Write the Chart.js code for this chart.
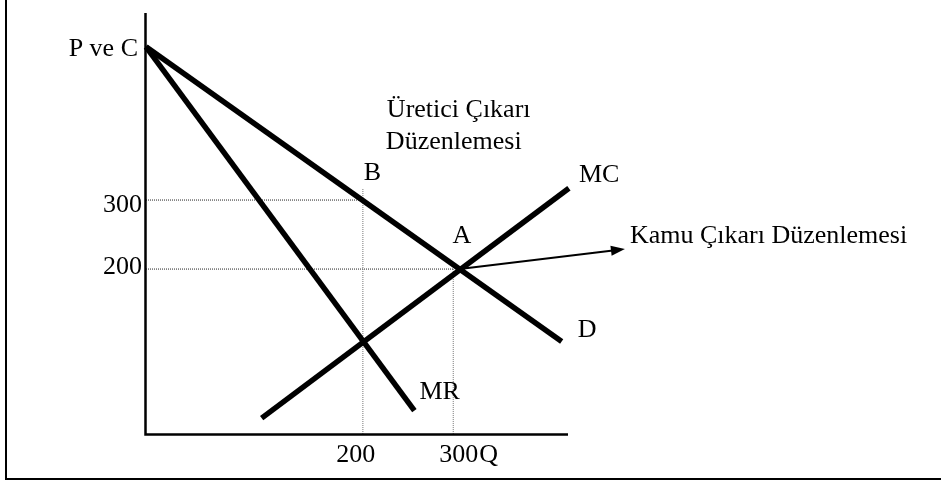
<!DOCTYPE html>
<html>
<head>
<meta charset="utf-8">
<script src="https://cdn.jsdelivr.net/npm/chart.js@4.4.1/dist/chart.umd.min.js"></script>
<style>
  html, body { margin: 0; padding: 0; background: #fff; }
  #wrap { width: 941px; height: 481px; }
</style>
</head>
<body>
<div id="wrap"><canvas id="chart" width="941" height="481"></canvas></div>
<script>
// schematic units
const qRange = [-40, 427];
const pRange = [-39, 571];
const qTicks = [200, 300];
const pTicks = [300, 200];

// curves
const demandQ = [-40, 420];
const demandP = [522, 95];
const mrQ = [-40, 257];
const mrP = [522, -5];
const mcQ = [88, 428];
const mcP = [-16, 317];

// dotted guides through B and A
const guideBhQ = [-40, 200];
const guideBhP = [300, 300];
const guideBvQ = [200, 200];
const guideBvP = [316, -39];
const guideAhQ = [-40, 300];
const guideAhP = [200, 200];
const guideAvQ = [300, 300];
const guideAvP = [200, -39];

// arrow from A to the note
const arrowQ = [307, 490];
const arrowP = [200, 229];

const axisTitles = ['P ve C', 'Q'];
const curveNames = ['D', 'MR', 'MC'];
const pointNames = ['A', 'B'];
const noteTop = ['Üretici Çıkarı', 'Düzenlemesi'];
const noteRight = 'Kamu Çıkarı Düzenlemesi';

function pts(qs, ps) {
    return qs.map((q, i) => ({ x: q, y: ps[i] }));
}

function thick(data) {
    return { data: data, borderColor: '#000', borderWidth: 5.5, pointRadius: 0, showLine: true, clip: false, order: 1 };
}

function dotted(data, color) {
    return { data: data, borderColor: color, borderWidth: 1, borderDash: [1, 1], pointRadius: 0, showLine: true, clip: false, order: 2 };
}

const FONT = '26px "Liberation Serif", "Times New Roman", serif';

const decor = {
    id: 'decor',
    beforeDraw(chart) {
        const ctx = chart.ctx;
        ctx.save();
        ctx.fillStyle = '#fff';
        ctx.fillRect(0, 0, chart.width, chart.height);
        // frame
        ctx.strokeStyle = '#000';
        ctx.lineWidth = 2;
        ctx.beginPath();
        ctx.moveTo(6, 0);
        ctx.lineTo(6, 479);
        ctx.lineTo(chart.width, 479);
        ctx.stroke();
        ctx.restore();
    },
    afterDatasetsDraw(chart) {
        const ctx = chart.ctx;
        const xs = chart.scales.x, ys = chart.scales.y;
        const X = v => xs.getPixelForValue(v);
        const Y = v => ys.getPixelForValue(v);
        const a = chart.chartArea;

        ctx.save();
        // axes
        ctx.strokeStyle = '#000';
        ctx.lineWidth = 2.5;
        ctx.beginPath();
        ctx.moveTo(a.left - 0.5, a.top);
        ctx.lineTo(a.left - 0.5, a.bottom + 0.5);
        ctx.lineTo(a.right, a.bottom + 0.5);
        ctx.stroke();

        // arrow
        const x0 = X(arrowQ[0]), y0 = Y(arrowP[0]);
        const x1 = X(arrowQ[1]), y1 = Y(arrowP[1]);
        const ang = Math.atan2(y1 - y0, x1 - x0);
        ctx.lineWidth = 2;
        ctx.beginPath();
        ctx.moveTo(x0, y0);
        ctx.lineTo(x1 - 12 * Math.cos(ang), y1 - 12 * Math.sin(ang));
        ctx.stroke();
        ctx.fillStyle = '#000';
        ctx.beginPath();
        ctx.moveTo(x1, y1);
        ctx.lineTo(x1 - 14 * Math.cos(ang) + 5 * Math.sin(ang), y1 - 14 * Math.sin(ang) - 5 * Math.cos(ang));
        ctx.lineTo(x1 - 14 * Math.cos(ang) - 5 * Math.sin(ang), y1 - 14 * Math.sin(ang) + 5 * Math.cos(ang));
        ctx.closePath();
        ctx.fill();

        // texts
        ctx.font = FONT;
        ctx.fillStyle = '#000';
        ctx.textBaseline = 'alphabetic';

        ctx.textAlign = 'right';
        ctx.fillText(axisTitles[0], a.left - 8, Y(demandP[0]) + 9);
        const pDy = [12, 5];
        pTicks.forEach((v, i) => ctx.fillText(String(v), a.left - 4, Y(v) + pDy[i]));

        ctx.textAlign = 'center';
        ctx.fillText(String(qTicks[0]), X(qTicks[0]) - 7, a.bottom + 28);
        ctx.textAlign = 'left';
        ctx.fillText(String(qTicks[1]), X(qTicks[1]) - 14, a.bottom + 28);
        ctx.fillText(axisTitles[1], X(qTicks[1]) + 26, a.bottom + 28);

        ctx.fillText(curveNames[0], X(demandQ[1]) + 16, Y(demandP[1]) - 5);
        ctx.fillText(curveNames[1], X(mrQ[1]) + 5, Y(mrP[1]) - 12);
        ctx.fillText(curveNames[2], X(mcQ[1]) + 10, Y(mcP[1]) - 6);

        ctx.fillText(pointNames[0], X(arrowQ[0]) - 7, Y(arrowP[0]) - 26);
        ctx.fillText(pointNames[1], X(qTicks[0]) + 1, Y(300) - 20);

        ctx.fillText(noteTop[0], X(qTicks[0]) + 24, Y(300) - 83);
        ctx.fillText(noteTop[1], X(qTicks[0]) + 23, Y(300) - 51);
        ctx.fillText(noteRight, x1 + 5, y1 - 6);
        ctx.restore();
    }
};

new Chart(document.getElementById('chart'), {
    type: 'scatter',
    data: {
        datasets: [
            thick(pts(demandQ, demandP)),
            thick(pts(mrQ, mrP)),
            thick(pts(mcQ, mcP)),
            dotted(pts(guideBhQ, guideBhP), '#222'),
            dotted(pts(guideBvQ, guideBvP), '#777'),
            dotted(pts(guideAhQ, guideAhP), '#222'),
            dotted(pts(guideAvQ, guideAvP), '#777')
        ]
    },
    options: {
        responsive: false,
        animation: false,
        layout: { padding: { left: 146, right: 373, top: 13, bottom: 47 } },
        scales: {
            x: { type: 'linear', min: qRange[0], max: qRange[1], display: false },
            y: { type: 'linear', min: pRange[0], max: pRange[1], display: false }
        },
        plugins: { legend: { display: false }, tooltip: { enabled: false } }
    },
    plugins: [decor]
});
</script>
</body>
</html>
